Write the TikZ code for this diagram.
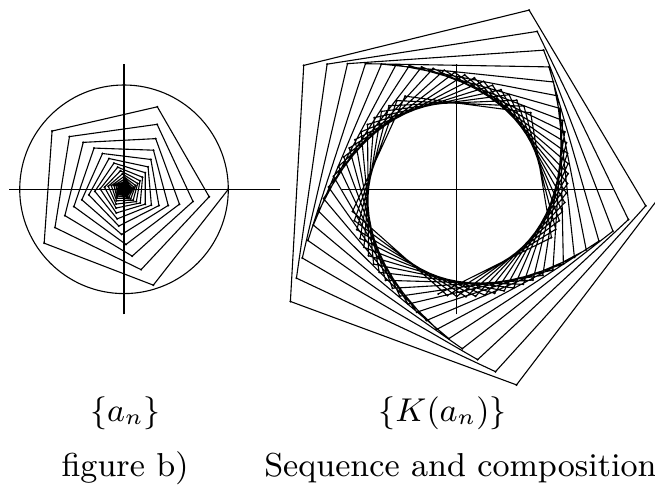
\documentclass[tikz,border=0pt]{standalone}
\begin{document}
\begin{tikzpicture}[x=1cm,y=1cm,
  seg/.style={line width=0.3pt,line join=round},
  axis/.style={line width=0.35pt},
  vdot/.style={fill=black},
  lab/.style={anchor=base,inner sep=0pt,font=\fontsize{9.05}{11}\selectfont}]
\def\rr{0.961}
\def\th{-73}
\def\NN{100}
\useasboundingbox (-1.189,-2.835) rectangle (5.091,1.815);
% ---- left figure: the sequence a_n
\coordinate (L) at (0,0);
\draw[axis] (-1.1,0) -- (1.5,0);
\draw[axis] (0,-1.2) -- (0,1.2);
\draw[seg] (L) circle (1);
\draw[seg] plot[samples at={0,...,\NN}, variable=\n]
  ({\rr^\n*cos(\th*\n)},{\rr^\n*sin(\th*\n)});
\foreach \n in {0,...,\NN}
  \fill[vdot] ({\rr^\n*cos(\th*\n)},{\rr^\n*sin(\th*\n)}) circle (0.011);
% ---- right figure: K(a_n)
\begin{scope}
\clip (-1.189,-2.835) rectangle (5.091,1.815);
\begin{scope}[shift={(3.19,0)}]
\coordinate (R) at (0,0);
\draw[axis] (-1.1,0) -- (1.5,0);
\draw[axis] (0,-1.2) -- (0,1.2);
\draw[seg] plot[samples at={0,...,\NN}, variable=\n]
  ({(1+\rr^\n)*cos(\th*\n)},{(1+\rr^\n)*sin(\th*\n)});
\foreach \n in {0,...,\NN}
  \fill[vdot] ({(1+\rr^\n)*cos(\th*\n)},{(1+\rr^\n)*sin(\th*\n)}) circle (0.011);
\end{scope}
\end{scope}
% ---- labels
\node[lab] (la) at (0.014,-2.222) {$\{a_n\}$};
\node[lab] (lb) at (0.01,-2.75) {figure b)};
\node[lab] (ra) at (3.054,-2.222) {$\{K(a_n)\}$};
\node[lab] (rb) at (3.226,-2.75) {Sequence and composition};
\end{tikzpicture}
\end{document}
